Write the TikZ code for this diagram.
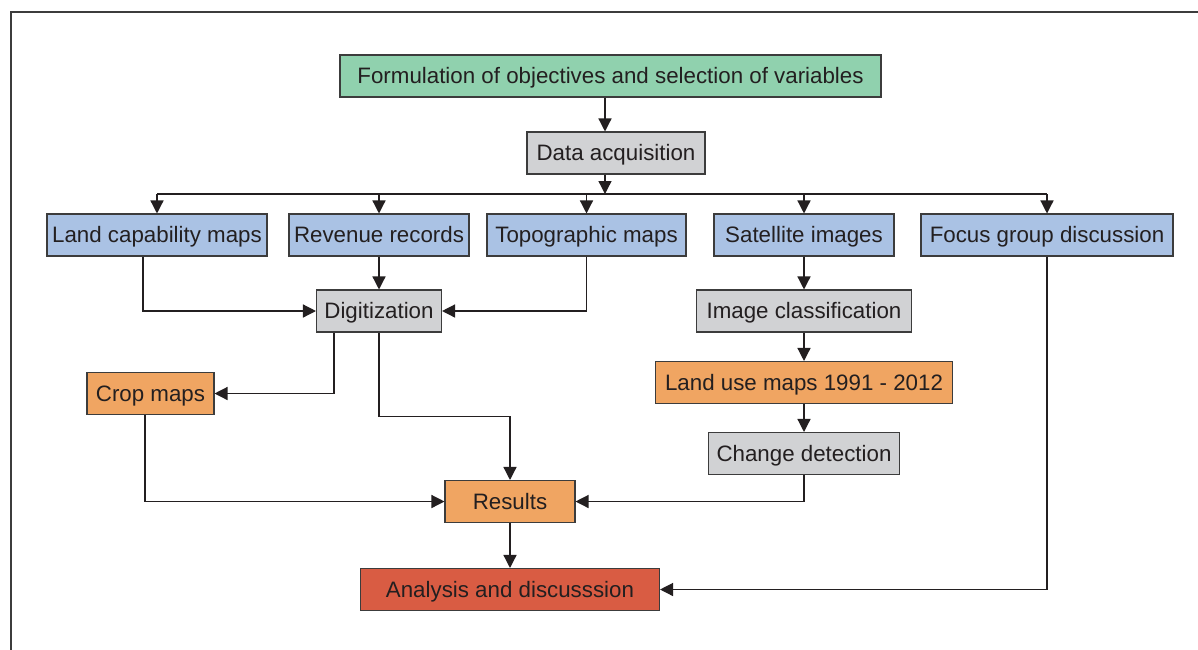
\documentclass[tikz,border=0pt]{standalone}
\usepackage{fontspec}
\setmainfont{Liberation Sans}
\usetikzlibrary{calc, positioning}
\usetikzlibrary{arrows.meta}

\definecolor{linecol}{HTML}{231F20}
\definecolor{framecol}{HTML}{3C3C3C}
\definecolor{greenbox}{HTML}{90D1AE}
\definecolor{graybox}{HTML}{D1D2D4}
\definecolor{bluebox}{HTML}{AAC2E4}
\definecolor{orangebox}{HTML}{F0A562}
\definecolor{redbox}{HTML}{D95C43}

\tikzset{
  box/.style={draw=framecol, line width=0.6pt, text=linecol, minimum height=0.84cm,
    inner xsep=0.1cm, text height=0.9em, text depth=0pt,
    font=\fontsize{12.7}{15}\selectfont},
  greenstep/.style={box, fill=greenbox},
  graystep/.style={box, fill=graybox},
  bluestep/.style={box, fill=bluebox},
  orangestep/.style={box, fill=orangebox},
  redstep/.style={box, fill=redbox},
  link/.style={draw=linecol, line width=0.75pt, -{Triangle[length=0.26cm, width=0.26cm]}},
  wire/.style={draw=linecol, line width=0.75pt},
}

\begin{document}
\begin{tikzpicture}
\def\W{23.96}
\def\H{12.98}
\def\rowy{-4.70}
\def\busy{-3.88}
\def\busx{12.10}

\useasboundingbox (0,0) rectangle (\W,-\H);
\fill[white] (0,0) rectangle (\W,-\H);

% outer frame (only top and left edges show)
\draw[framecol, line width=0.7pt] (\W+0.1,-0.24) -- (0.22,-0.24) -- (0.22,-\H-0.1);

% top
\node[greenstep, minimum width=10.82cm] (form) at (12.21,-1.52) {Formulation of objectives and selection of variables};
\node[graystep, minimum width=3.56cm] (acq) at (12.32,-3.06) {Data acquisition};
\coordinate (bus) at (\busx,\busy);

% sources
\node[bluestep, minimum width=4.40cm] (lcm) at (3.14,\rowy) {Land capability maps};
\node[bluestep, minimum width=3.60cm] (rev) at (7.58,\rowy) {Revenue records};
\node[bluestep, minimum width=3.98cm] (topo) at (11.73,\rowy) {Topographic maps};
\node[bluestep, minimum width=3.60cm] (sat) at (16.08,\rowy) {Satellite images};
\node[bluestep, minimum width=5.04cm] (fgd) at (20.94,\rowy) {Focus group discussion};

% processing
\node[graystep, minimum width=2.50cm] (dig) at (7.58,-6.22) {Digitization};
\node[graystep, minimum width=4.30cm] (imgc) at (16.08,-6.22) {Image classification};
\node[orangestep, minimum width=5.94cm] (lum) at (16.08,-7.65) {Land use maps 1991 - 2012};
\node[graystep, minimum width=3.82cm] (chg) at (16.08,-9.07) {Change detection};
\node[orangestep, minimum width=2.54cm] (crop) at (3.01,-7.87) {Crop maps};
\node[orangestep, minimum width=2.60cm] (res) at (10.20,-10.03) {Results};
\node[redstep, minimum width=5.98cm] (ana) at (10.20,-11.79) {Analysis and discusssion};

% helper points for the offset wires
\coordinate (lcmout) at ($(lcm.south)+(-0.28,0)$);
\coordinate (cropout) at ($(crop.south)+(-0.11,0)$);
\coordinate (digleft) at ($(dig.south)+(-0.90,0)$);

% connectors
\draw[link] (form.south -| bus) -- (acq.north -| bus);
\draw[link] (acq.south -| bus) -- (bus);
\draw[wire] (lcm.north |- bus) -- (fgd.north |- bus);
\foreach \n in {lcm, rev, topo, sat, fgd} {
  \draw[link] (\n.north |- bus) -- (\n.north);
}

\draw[link] (lcmout) |- (dig.west);
\draw[link] (rev.south) -- (dig.north);
\draw[link] (topo.south) |- (dig.east);
\draw[link] (digleft) |- (crop.east);
\draw[link] (dig.south) -- ++(0,-1.68) -| (res.north);
\draw[link] (cropout) |- (res.west);

\draw[link] (sat.south) -- (imgc.north);
\draw[link] (imgc.south) -- (lum.north);
\draw[link] (lum.south) -- (chg.north);
\draw[link] (chg.south) |- (res.east);

\draw[link] (res.south) -- (ana.north);
\draw[link] (fgd.south) |- (ana.east);
\end{tikzpicture}
\end{document}
